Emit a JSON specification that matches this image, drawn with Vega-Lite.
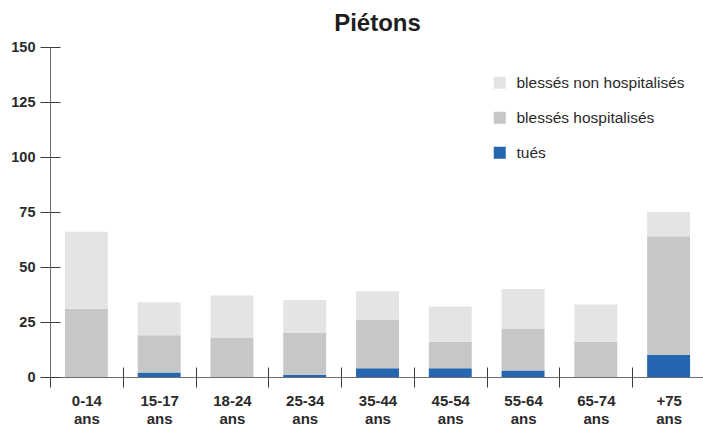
{
  "$schema": "https://vega.github.io/schema/vega-lite/v6.json",
  "width": 655,
  "height": 330,
  "autosize": "none",
  "padding": {"left": 50, "top": 47, "right": 0, "bottom": 48},
  "background": "white",
  "config": {
    "font": "Liberation Sans",
    "view": {"stroke": null}
  },
  "title": {
    "text": "Piétons",
    "font": "Liberation Sans",
    "fontSize": 24,
    "fontWeight": "bold",
    "color": "#1e1e1e",
    "anchor": "middle",
    "offset": 3
  },
  "data": {
    "values": [
      {"age": "0-14 ans", "cat": "tués", "ord": 1, "n": 0},
      {"age": "0-14 ans", "cat": "blessés hospitalisés", "ord": 2, "n": 31},
      {"age": "0-14 ans", "cat": "blessés non hospitalisés", "ord": 3, "n": 35},
      {"age": "15-17 ans", "cat": "tués", "ord": 1, "n": 2},
      {"age": "15-17 ans", "cat": "blessés hospitalisés", "ord": 2, "n": 17},
      {"age": "15-17 ans", "cat": "blessés non hospitalisés", "ord": 3, "n": 15},
      {"age": "18-24 ans", "cat": "tués", "ord": 1, "n": 0},
      {"age": "18-24 ans", "cat": "blessés hospitalisés", "ord": 2, "n": 18},
      {"age": "18-24 ans", "cat": "blessés non hospitalisés", "ord": 3, "n": 19},
      {"age": "25-34 ans", "cat": "tués", "ord": 1, "n": 1},
      {"age": "25-34 ans", "cat": "blessés hospitalisés", "ord": 2, "n": 19},
      {"age": "25-34 ans", "cat": "blessés non hospitalisés", "ord": 3, "n": 15},
      {"age": "35-44 ans", "cat": "tués", "ord": 1, "n": 4},
      {"age": "35-44 ans", "cat": "blessés hospitalisés", "ord": 2, "n": 22},
      {"age": "35-44 ans", "cat": "blessés non hospitalisés", "ord": 3, "n": 13},
      {"age": "45-54 ans", "cat": "tués", "ord": 1, "n": 4},
      {"age": "45-54 ans", "cat": "blessés hospitalisés", "ord": 2, "n": 12},
      {"age": "45-54 ans", "cat": "blessés non hospitalisés", "ord": 3, "n": 16},
      {"age": "55-64 ans", "cat": "tués", "ord": 1, "n": 3},
      {"age": "55-64 ans", "cat": "blessés hospitalisés", "ord": 2, "n": 19},
      {"age": "55-64 ans", "cat": "blessés non hospitalisés", "ord": 3, "n": 18},
      {"age": "65-74 ans", "cat": "tués", "ord": 1, "n": 0},
      {"age": "65-74 ans", "cat": "blessés hospitalisés", "ord": 2, "n": 16},
      {"age": "65-74 ans", "cat": "blessés non hospitalisés", "ord": 3, "n": 17},
      {"age": "+75 ans", "cat": "tués", "ord": 1, "n": 10},
      {"age": "+75 ans", "cat": "blessés hospitalisés", "ord": 2, "n": 54},
      {"age": "+75 ans", "cat": "blessés non hospitalisés", "ord": 3, "n": 11}
    ]
  },
  "resolve": {"axis": {"x": "independent", "y": "independent"}},
  "layer": [
    {
      "mark": {"type": "bar", "width": {"band": 0.59}},
      "encoding": {
        "x": {
          "field": "age",
          "type": "nominal",
          "sort": null,
          "scale": {"paddingInner": 0, "paddingOuter": 0},
          "axis": {
            "orient": "bottom",
            "title": null,
            "labelAngle": 0,
            "labelExpr": "split(datum.label, ' ')",
            "labelFont": "Liberation Sans",
            "labelFontSize": 15,
            "labelFontWeight": "bold",
            "labelColor": "#2a2a2a",
            "labelPadding": 6,
            "labelLineHeight": 18,
            "tickBand": "extent",
            "tickSize": 10,
            "tickColor": "#3c3c3c",
            "domainColor": "#6e6e6e",
            "grid": false
          }
        },
        "y": {
          "field": "n",
          "type": "quantitative",
          "stack": "zero",
          "scale": {"domain": [0, 150], "nice": false},
          "axis": {
            "orient": "left",
            "title": null,
            "values": [0, 25, 50, 75, 100, 125, 150],
            "labelFont": "Liberation Sans",
            "labelFontSize": 14.5,
            "labelFontWeight": "bold",
            "labelColor": "#2a2a2a",
            "labelPadding": 5,
            "tickSize": 10,
            "tickColor": "#3c3c3c",
            "domainColor": "#6e6e6e",
            "grid": false
          }
        },
        "color": {
          "field": "cat",
          "type": "nominal",
          "scale": {
            "domain": ["blessés non hospitalisés", "blessés hospitalisés", "tués"],
            "range": ["#e3e4e6", "#c6c7c9", "#2566b0"]
          },
          "legend": {
            "title": null,
            "orient": "none",
            "legendX": 442,
            "legendY": 28,
            "symbolType": "square",
            "symbolSize": 144,
            "symbolStrokeWidth": 0,
            "labelFont": "Liberation Sans",
            "labelFontSize": 15.5,
            "labelColor": "#2a2a2a",
            "labelOffset": 9,
            "labelLimit": 300,
            "rowPadding": 18
          }
        },
        "order": {"field": "ord", "type": "quantitative"}
      }
    },
    {
      "mark": {"type": "bar", "opacity": 0, "width": {"band": 0.59}},
      "encoding": {
        "x": {
          "field": "age",
          "type": "nominal",
          "sort": null,
          "axis": {
            "orient": "bottom",
            "title": null,
            "labels": false,
            "domain": false,
            "tickBand": "extent",
            "tickSize": -10,
            "tickColor": "#3c3c3c",
            "grid": false
          }
        },
        "y": {
          "field": "n",
          "type": "quantitative",
          "stack": "zero",
          "axis": {
            "orient": "left",
            "title": null,
            "values": [0, 25, 50, 75, 100, 125, 150],
            "labels": false,
            "domain": false,
            "tickSize": -10,
            "tickColor": "#3c3c3c",
            "grid": false
          }
        },
        "order": {"field": "ord", "type": "quantitative"}
      }
    }
  ]
}
